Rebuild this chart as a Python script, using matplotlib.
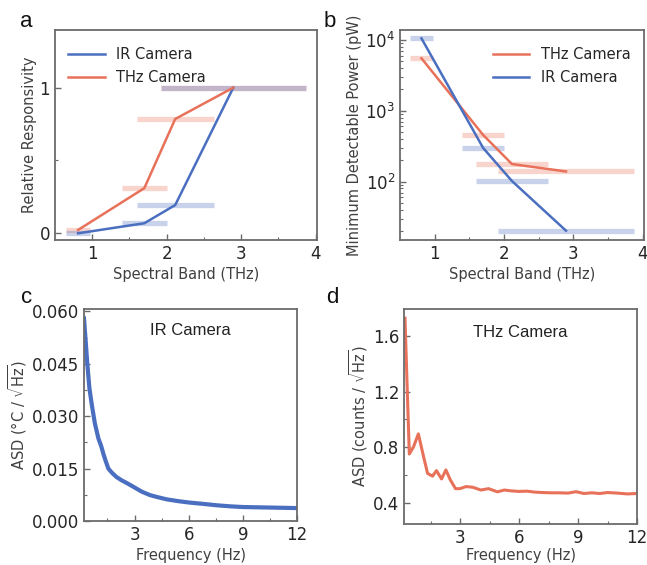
import matplotlib
matplotlib.use("Agg")
import matplotlib.pyplot as plt
from matplotlib.ticker import MultipleLocator, FixedLocator, LogLocator, NullFormatter

# ---------------- data ----------------
band_lo = [0.65, 1.40, 1.60, 1.92]
band_hi = [0.97, 2.00, 2.63, 3.87]
band_center = [0.81, 1.70, 2.115, 2.895]

resp_ir = [0.0, 0.069, 0.194, 1.0]
resp_thz = [0.023, 0.31, 0.785, 1.0]

mdp_thz = [5500, 455, 177, 139]
mdp_ir = [10500, 298, 102, 20.3]

freq_ir = [0.2, 0.3, 0.38, 0.5, 0.62, 0.8, 1.0, 1.15, 1.27, 1.4, 1.55, 1.75, 2.0,
           2.3, 2.56, 3.0, 3.4, 3.86, 4.3, 4.78, 5.4, 6.0, 6.8, 7.55, 8.3, 9.0,
           10.0, 11.0, 12.0]
asd_ir = [0.058, 0.051, 0.0452, 0.038, 0.0337, 0.028, 0.0236, 0.0215, 0.0193,
          0.0172, 0.015, 0.0138, 0.0126, 0.0116, 0.0109, 0.0096, 0.0084, 0.0074,
          0.0068, 0.0062, 0.0057, 0.0053, 0.0049, 0.0045, 0.0042, 0.0040,
          0.0039, 0.0038, 0.0037]

freq_thz = [0.2, 0.42, 0.63, 0.88, 1.13, 1.35, 1.6, 1.8, 2.06, 2.28, 2.5, 2.77,
            3.0, 3.3, 3.65, 4.06, 4.45, 4.9, 5.25, 5.6, 6.0, 6.4, 6.8, 7.2, 7.6,
            8.0, 8.5, 8.9, 9.3, 9.7, 10.1, 10.5, 11.0, 11.5, 12.0]
asd_thz = [1.73, 0.75, 0.80, 0.895, 0.74, 0.61, 0.59, 0.63, 0.57, 0.635, 0.565,
           0.50, 0.50, 0.515, 0.51, 0.49, 0.50, 0.477, 0.49, 0.484, 0.48, 0.482,
           0.475, 0.472, 0.47, 0.47, 0.468, 0.478, 0.465, 0.47, 0.465, 0.472,
           0.468, 0.462, 0.465]

label_ir = "IR Camera"
label_thz = "THz Camera"

# ---------------- style ----------------
BLUE = "#4a6fc0"
RED = "#e8715a"
SPINE = "#6b6b6b"
TICKC = "#262626"
LABC = "#404040"

plt.rcParams["font.family"] = ["DejaVu Sans"]
W, H = 647, 565
fig = plt.figure(figsize=(W / 100, H / 100), dpi=100)


def style_ax(ax):
    for s in ax.spines.values():
        s.set_color(SPINE)
        s.set_linewidth(1.3)
    ax.tick_params(which="both", direction="in", colors=SPINE, labelcolor=TICKC,
                   labelsize=12, top=False, right=False)
    ax.tick_params(which="major", length=4, width=1)
    ax.tick_params(which="minor", length=2.5, width=0.8)


def frac(l, t, r, b):
    return [l / W, 1 - b / H, (r - l) / W, (b - t) / H]


# ---------------- panel a ----------------
axa = fig.add_axes(frac(55, 30, 317, 240))
for lo, hi, v in zip(band_lo, band_hi, resp_thz):
    axa.plot([lo, hi], [v, v], color=RED, alpha=0.3, lw=3.8, solid_capstyle="butt")
for lo, hi, v in zip(band_lo, band_hi, resp_ir):
    axa.plot([lo, hi], [v, v], color=BLUE, alpha=0.3, lw=3.8, solid_capstyle="butt")
axa.plot(band_center, resp_ir, color=BLUE, lw=1.8, label=label_ir)
axa.plot(band_center, resp_thz, color=RED, lw=1.8, label=label_thz)
axa.set_xlim(0.5, 4.02)
axa.set_ylim(-0.046, 1.396)
axa.xaxis.set_major_locator(FixedLocator([1, 2, 3, 4]))
axa.xaxis.set_minor_locator(FixedLocator([1.5, 2.5, 3.5]))
axa.yaxis.set_major_locator(FixedLocator([0, 1]))
axa.yaxis.set_minor_locator(FixedLocator([0.5]))
style_ax(axa)
axa.set_xlabel("Spectral Band (THz)", fontsize=10.5, color=LABC, labelpad=3)
axa.set_ylabel("Relative Responsivity", fontsize=10.5, color=LABC, labelpad=2)
axa.legend(loc="upper left", frameon=False, fontsize=10.5, handlelength=2.5,
           labelspacing=0.5, bbox_to_anchor=(0.0, 0.98), labelcolor=TICKC)

# ---------------- panel b ----------------
axb = fig.add_axes(frac(400, 30, 644, 240))
for lo, hi, v in zip(band_lo, band_hi, mdp_thz):
    axb.plot([lo, hi], [v, v], color=RED, alpha=0.3, lw=3.8, solid_capstyle="butt")
for lo, hi, v in zip(band_lo, band_hi, mdp_ir):
    axb.plot([lo, hi], [v, v], color=BLUE, alpha=0.3, lw=3.8, solid_capstyle="butt")
axb.plot(band_center, mdp_thz, color=RED, lw=1.8, label=label_thz)
axb.plot(band_center, mdp_ir, color=BLUE, lw=1.8, label=label_ir)
axb.set_yscale("log")
axb.set_xlim(0.5, 4.02)
axb.set_ylim(15, 13800)
axb.xaxis.set_major_locator(FixedLocator([1, 2, 3, 4]))
axb.xaxis.set_minor_locator(FixedLocator([1.5, 2.5, 3.5]))
axb.yaxis.set_major_locator(LogLocator(base=10, numticks=10))
axb.yaxis.set_minor_locator(LogLocator(base=10, subs=range(2, 10), numticks=20))
axb.yaxis.set_minor_formatter(NullFormatter())
style_ax(axb)
axb.set_xlabel("Spectral Band (THz)", fontsize=10.5, color=LABC, labelpad=3)
axb.set_ylabel("Minimum Detectable Power (pW)", fontsize=10.5, color=LABC, labelpad=2)
axb.legend(loc="upper right", frameon=False, fontsize=10.5, handlelength=2.5,
           labelspacing=0.5, bbox_to_anchor=(1.0, 0.98), labelcolor=TICKC)

# ---------------- panel c ----------------
axc = fig.add_axes(frac(84, 309, 297, 521))
axc.plot(freq_ir, asd_ir, color=BLUE, lw=3.0)
axc.set_xlim(0.2, 12)
axc.set_ylim(0, 0.0607)
axc.xaxis.set_major_locator(FixedLocator([3, 6, 9, 12]))
axc.xaxis.set_minor_locator(FixedLocator([1.5, 4.5, 7.5, 10.5]))
axc.yaxis.set_major_locator(MultipleLocator(0.015))
axc.yaxis.set_minor_locator(MultipleLocator(0.0075))
axc.yaxis.set_major_formatter(plt.FormatStrFormatter("%.3f"))
style_ax(axc)
axc.set_xlabel("Frequency (Hz)", fontsize=10.5, color=LABC, labelpad=3)
axc.set_ylabel(r"ASD (°C / $\sqrt{\mathrm{Hz}}$)", fontsize=10.5, color=LABC, labelpad=2)
axc.text(0.5, 0.9, label_ir, transform=axc.transAxes, ha="center", va="center",
         fontsize=12, family="Liberation Sans", color="#222222")

# ---------------- panel d ----------------
axd = fig.add_axes(frac(404, 309, 637, 524))
axd.plot(freq_thz, asd_thz, color=RED, lw=2.2)
axd.set_xlim(0.15, 12)
axd.set_ylim(0.245, 1.796)
axd.xaxis.set_major_locator(FixedLocator([3, 6, 9, 12]))
axd.xaxis.set_minor_locator(FixedLocator([1.5, 4.5, 7.5, 10.5]))
axd.yaxis.set_major_locator(FixedLocator([0.4, 0.8, 1.2, 1.6]))
axd.yaxis.set_minor_locator(FixedLocator([0.6, 1.0, 1.4]))
style_ax(axd)
axd.set_xlabel("Frequency (Hz)", fontsize=10.5, color=LABC, labelpad=1)
axd.set_ylabel(r"ASD (counts / $\sqrt{\mathrm{Hz}}$)", fontsize=10.5, color=LABC, labelpad=2)
axd.text(0.5, 0.89, label_thz, transform=axd.transAxes, ha="center", va="center",
         fontsize=12, family="Liberation Sans", color="#222222")

# ---------------- panel letters ----------------
for lab, x, y in [("a", 20, 27), ("b", 324, 27), ("c", 21, 303), ("d", 326, 303)]:
    fig.text(x / W, 1 - y / H, lab, fontsize=16, family="Liberation Sans",
             color="#111111", va="baseline", ha="left")

fig.savefig("out.png", dpi=100)
